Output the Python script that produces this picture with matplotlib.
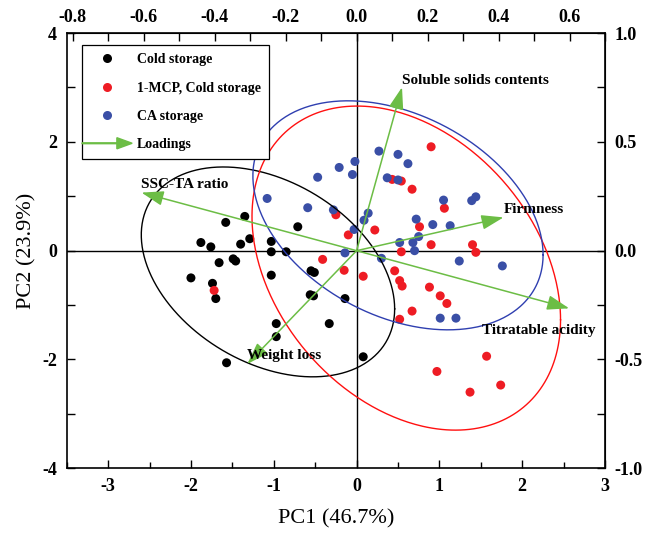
import numpy as np
import matplotlib
matplotlib.use("Agg")
import matplotlib.pyplot as plt
from matplotlib.lines import Line2D
from matplotlib.patches import FancyArrow
from matplotlib.legend_handler import HandlerPatch
from matplotlib.ticker import FixedLocator, FuncFormatter

plt.rcParams["font.family"] = ["Liberation Serif", "DejaVu Serif"]

# PCA scores (PC1, PC2)
cold_x = [-1.35, -1.58, -0.71, -1.88, -1.76, -1.40, -1.29, -1.03, -1.03, -0.85, -1.66, -1.49, -1.46, -2.00,
          -1.74, -1.70, -1.03, -0.55, -0.51, -0.56, -0.52, -0.14, -0.97, -0.97, -0.33, -1.57, 0.08]
cold_y = [0.63, 0.52, 0.44, 0.15, 0.07, 0.12, 0.22, 0.17, -0.02, -0.02, -0.22, -0.15, -0.19, -0.50,
          -0.60, -0.88, -0.45, -0.37, -0.40, -0.81, -0.83, -0.88, -1.34, -1.58, -1.34, -2.06, -1.95]

mcp_x = [-0.25, -0.10, -0.41, -0.15, 0.08, -1.72, 0.90, 0.43, 0.54, 0.67, 1.06, 0.76, 0.22, 0.90, 1.40,
         1.44, 0.54, 0.46, 0.52, 0.55, 0.88, 1.01, 1.09, 0.67, 0.52, 1.57, 0.97, 1.74, 1.37]
mcp_y = [0.66, 0.29, -0.16, -0.36, -0.47, -0.73, 1.91, 1.31, 1.28, 1.13, 0.78, 0.44, 0.38, 0.11, 0.11,
         -0.03, -0.02, -0.37, -0.55, -0.65, -0.67, -0.83, -0.97, -1.11, -1.26, -1.94, -2.22, -2.47, -2.60]

ca_x = [-0.21, -0.05, -0.02, -0.47, -1.08, -0.59, -0.03, -0.14, 0.27, 0.50, 0.62, 0.37, 0.50, 1.05, 1.39, 1.44,
        0.14, 0.09, 0.72, 0.92, 1.13, 0.75, 0.68, 0.52, 0.70, 0.30, 1.24, 1.76, 1.01, 1.20, -0.28]
ca_y = [1.53, 1.40, 1.64, 1.35, 0.96, 0.79, 0.39, -0.04, 1.83, 1.77, 1.60, 1.34, 1.30, 0.93, 0.92, 0.99,
        0.69, 0.56, 0.58, 0.48, 0.46, 0.26, 0.15, 0.15, 0.00, -0.14, -0.19, -0.28, -1.24, -1.24, 0.75]

# loadings (read on the top / right axes)
variables = ["SSC-TA ratio", "Soluble solids contents", "Firmness", "Titratable acidity", "Weight loss"]
load_pc1 = [-0.606, 0.128, 0.414, 0.599, -0.308]
load_pc2 = [0.267, 0.751, 0.153, -0.265, -0.521]

# confidence ellipses: centre and covariance per group
ell_cx = [-1.07, 0.60, 0.50]
ell_cy = [-0.39, -0.32, 0.65]
ell_sxx = [2.34, 3.47, 3.07]
ell_syy = [3.72, 8.87, 4.43]
ell_sxy = [-1.04, -1.77, -1.27]

groups = ["Cold storage", "1-MCP, Cold storage", "CA storage"]
colors = ["black", "#ee1c24", "#3a4fa6"]
ell_colors = ["black", "#ff1010", "#2f3fb0"]
green = "#6cbd45"

# bottom/left ticks and top/right (loading) ticks
pc1_ticks = [-3, -2, -1, 0, 1, 2, 3]
pc2_ticks = [-4, -2, 0, 2, 4]
top_ticks = [-0.8, -0.6, -0.4, -0.2, 0.0, 0.2, 0.4, 0.6]
right_ticks = [-1.0, -0.5, 0.0, 0.5, 1.0]

# loading axis scale
kx = 3 / 0.7
ky = 4.0

fig = plt.figure(figsize=(6.58, 5.36), dpi=100)
ax = fig.add_axes([0.1014, 0.1263, 0.8181, 0.812])
ax.set_xlim(-3.5, 3)
ax.set_ylim(-4, 4)

ax.axhline(0, color="black", lw=1.0, zorder=1)
ax.axvline(0, color="black", lw=1.0, zorder=1)

for xs, ys, c in zip([cold_x, mcp_x, ca_x], [cold_y, mcp_y, ca_y], colors):
    ax.scatter(xs, ys, s=42, color=c, edgecolors="none", zorder=3)

t = np.linspace(0, 2 * np.pi, 400)
for i in range(3):
    cov = np.array([[ell_sxx[i], ell_sxy[i]], [ell_sxy[i], ell_syy[i]]])
    L = np.linalg.cholesky(cov)
    pts = L @ np.vstack([np.cos(t), np.sin(t)])
    ax.plot(ell_cx[i] + pts[0], ell_cy[i] + pts[1], color=ell_colors[i], lw=1.0, zorder=4)

# loading arrows and labels
label_offsets = [(0, 5.5), (0, 5), (0, 5.5), (-63, -16), (0, 6.5)]
for name, lx, ly, off in zip(variables, load_pc1, load_pc2, label_offsets):
    ax.annotate("", xy=(lx * kx, ly * ky), xytext=(0, 0),
                arrowprops=dict(arrowstyle="-|>,head_length=1.35,head_width=0.45", mutation_scale=10,
                                color=green, lw=1.1, shrinkA=0, shrinkB=0), zorder=5)
    ax.annotate(name, xy=(lx * kx, ly * ky), xytext=off, textcoords="offset points",
                ha="left", va="center", fontsize=11, fontweight="bold", zorder=6)


def fmt_int(v, pos):
    return f"{round(v):d}"


def fmt_one(v, pos):
    s = f"{v:.1f}"
    return "0.0" if s == "-0.0" else s


ax.xaxis.set_major_locator(FixedLocator(pc1_ticks))
ax.xaxis.set_minor_locator(FixedLocator(np.arange(-3.5, 3.01, 0.5)))
ax.yaxis.set_major_locator(FixedLocator(pc2_ticks))
ax.yaxis.set_minor_locator(FixedLocator(np.arange(-4, 4.01, 1.0)))
ax.xaxis.set_major_formatter(FuncFormatter(fmt_int))
ax.yaxis.set_major_formatter(FuncFormatter(fmt_int))
ax.tick_params(which="both", direction="in", width=1.0, labelsize=13, pad=7)
ax.tick_params(which="major", length=6)
ax.tick_params(which="minor", length=4)
ax.tick_params(axis="y", which="minor", length=6)
for lab in ax.get_xticklabels() + ax.get_yticklabels():
    lab.set_fontweight("bold")

secx = ax.secondary_xaxis("top", functions=(lambda x: x / kx, lambda x: x * kx))
secx.xaxis.set_major_locator(FixedLocator(top_ticks))
secx.xaxis.set_minor_locator(FixedLocator(np.arange(-0.8, 0.71, 0.1)))
secx.xaxis.set_major_formatter(FuncFormatter(fmt_one))
secx.tick_params(which="both", direction="in", width=1.0, length=6, labelsize=13, pad=5)

secy = ax.secondary_yaxis("right", functions=(lambda y: y / ky, lambda y: y * ky))
secy.yaxis.set_major_locator(FixedLocator(right_ticks))
secy.yaxis.set_minor_locator(FixedLocator(np.arange(-1.0, 1.01, 0.25)))
secy.yaxis.set_major_formatter(FuncFormatter(fmt_one))
secy.tick_params(which="both", direction="in", width=1.0, length=6, labelsize=13, pad=7)

for a in (secx.xaxis, secy.yaxis):
    for lab in a.get_ticklabels():
        lab.set_fontweight("bold")
for sp in ax.spines.values():
    sp.set_linewidth(1.2)

ax.set_xlabel("PC1 (46.7%)", fontsize=16, labelpad=10)
ax.set_ylabel("PC2 (23.9%)", fontsize=16, labelpad=4)


# legend with an arrow entry for the loadings
class HandlerArrow(HandlerPatch):
    def create_artists(self, legend, orig_handle, xdescent, ydescent, width, height, fontsize, trans):
        ext = 5.8
        x0 = -xdescent - ext
        x1 = -xdescent + width + ext
        y = -ydescent + height / 2
        p = FancyArrow(x0, y, x1 - x0, 0, width=0.6, length_includes_head=True,
                       head_width=8, head_length=11, color=green)
        p.set_transform(trans)
        return [p]


handles = [Line2D([], [], ls="none", marker="o", markersize=6.5, color=c, markeredgewidth=0) for c in colors]
arrow_handle = FancyArrow(0, 0, 1, 0, color=green)
handles.append(arrow_handle)
leg = ax.legend(handles, groups + ["Loadings"], loc="upper left", bbox_to_anchor=(0.0279, 0.9727),
                borderaxespad=0, borderpad=0.6, handlelength=2.45, handletextpad=0.94, labelspacing=1.1,
                fancybox=False, framealpha=1, edgecolor="black",
                prop={"weight": "bold", "size": 10},
                handler_map={FancyArrow: HandlerArrow()})
leg.get_frame().set_linewidth(0.9)
leg.set_zorder(7)

fig.savefig("out.png", dpi=100)
